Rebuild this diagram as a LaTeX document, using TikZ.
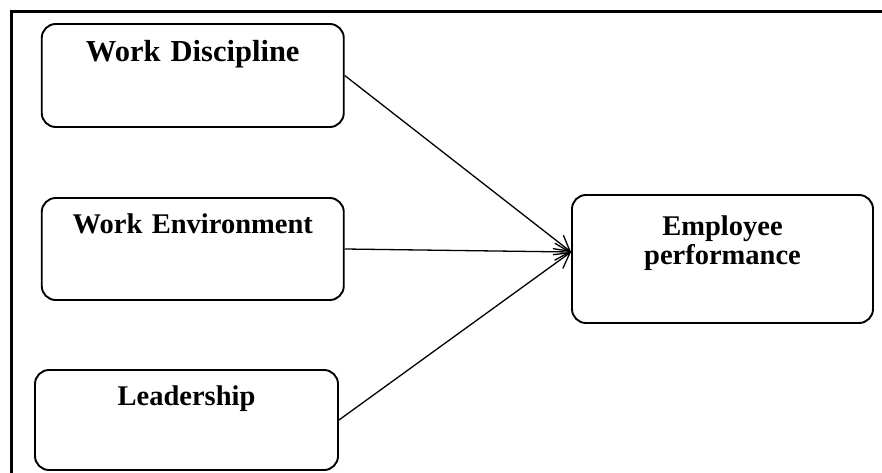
\documentclass[tikz,border=0pt]{standalone}
\usepackage{fontspec}
\setmainfont{Liberation Serif}
\usetikzlibrary{arrows.meta}

\begin{document}
\begin{tikzpicture}[x=1pt,y=-1pt,
    box/.style={draw,line width=1.9pt,rounded corners=14pt,inner sep=0pt,
        align=center,anchor=base,font=\bfseries\fontsize{28.5}{29}\selectfont},
    link/.style={line width=1.3pt,-{Straight Barb[length=15pt,width=17pt]}}]
    \useasboundingbox (0,0) rectangle (882,473);
    \draw[line width=3.3pt] (882,11.5)--(11.5,11.5)--(11.5,473);
    \node[box,font=\bfseries\fontsize{30.5}{31}\selectfont,text width=302pt,text height=38pt,text depth=65pt] (D) at (192.75,62) {Work Discipline};
    \node[box,text width=302pt,text height=35pt,text depth=67pt] (E) at (192.75,233) {Work Environment};
    \node[box,text width=303pt,text height=35pt,text depth=65pt] (L) at (186.5,405) {Leadership};
    \node[box,text width=301pt,text height=40pt,text depth=88pt] (P) at (722.5,235) {Employee\\performance};
    \draw[link] (D.east)--([yshift=7pt]P.west);
    \draw[link] (E.east)--([yshift=7pt]P.west);
    \draw[link] (L.east)--([yshift=7pt]P.west);
\end{tikzpicture}
\end{document}
